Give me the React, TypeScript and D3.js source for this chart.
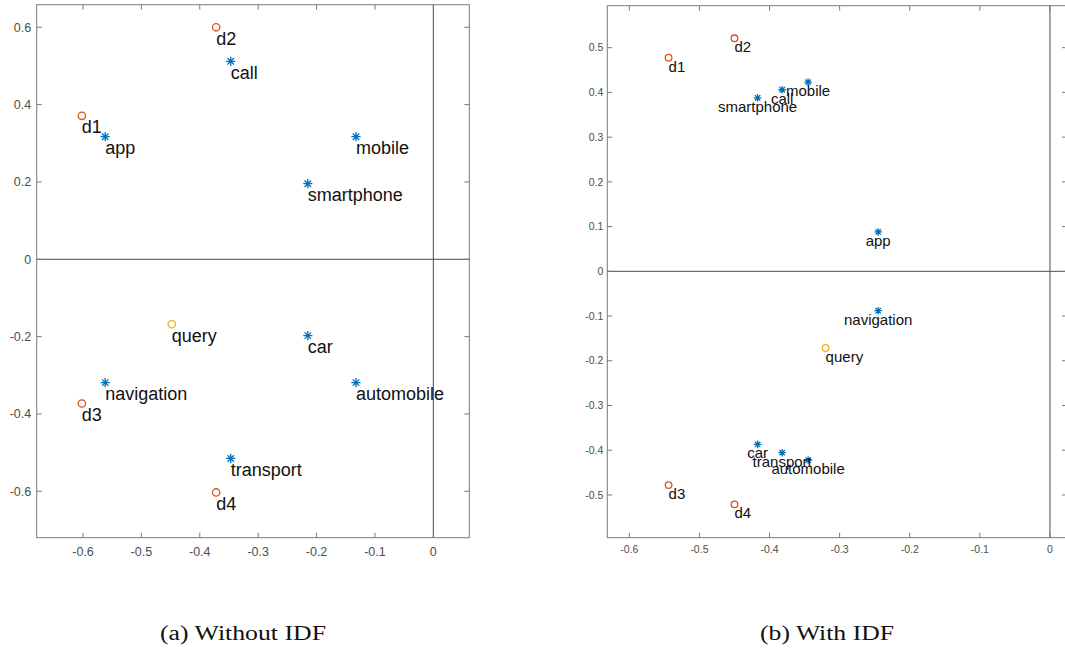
import React from "react";
import * as d3 from "d3";

// Term and document labels
const terms = ["call", "app", "mobile", "smartphone", "car", "navigation", "automobile", "transport"];
const docs = ["d1", "d2", "d3", "d4"];
const queryLabel = "query";

// (a) Without IDF — 2-D LSI coordinates
const termXa = [-0.347, -0.562, -0.1325, -0.215, -0.215, -0.562, -0.1325, -0.347];
const termYa = [0.512, 0.317, 0.317, 0.1955, -0.1975, -0.319, -0.319, -0.515];
const docXa = [-0.602, -0.372, -0.602, -0.372];
const docYa = [0.371, 0.6, -0.373, -0.603];
const queryA = [-0.448, -0.168];

// (b) With IDF
const termXb = [-0.382, -0.245, -0.345, -0.417, -0.417, -0.245, -0.345, -0.382];
const termYb = [0.406, 0.088, 0.423, 0.388, -0.387, -0.088, -0.422, -0.4055];
const docXb = [-0.544, -0.45, -0.544, -0.45];
const docYb = [0.4775, 0.521, -0.478, -0.521];
const queryB = [-0.32, -0.1715];

// Axis ticks
const xTicks = [-0.6, -0.5, -0.4, -0.3, -0.2, -0.1, 0];
const yTicksA = [-0.6, -0.4, -0.2, 0, 0.2, 0.4, 0.6];
const yTicksB = [-0.5, -0.4, -0.3, -0.2, -0.1, 0, 0.1, 0.2, 0.3, 0.4, 0.5];

const BLUE = "#0072BD";
const ORANGE = "#D95319";
const YELLOW = "#EDB120";
const FRAME = "#7a7a7a";
const ZERO = "#4a4a4a";
const TICKTXT = "#4d4d4d";

type PanelProps = {
  left: number; right: number; top: number; bottom: number;
  xDomain: [number, number]; yDomain: [number, number];
  yTicks: number[];
  tx: number[]; ty: number[]; dx: number[]; dy: number[]; q: number[];
  labelSize: number; tickSize: number; labelDy: number;
  markerR: number; starR: number; centerTerms: boolean;
  yLabelGap: number; xLabelDy: number;
};

function fmt(v: number) {
  if (Math.abs(v) < 1e-9) return "0";
  return String(+v.toFixed(1));
}

function Star({ x, y, r }: { x: number; y: number; r: number }) {
  const d = r * Math.SQRT1_2;
  const p = `M${x - r},${y}L${x + r},${y}M${x},${y - r}L${x},${y + r}` +
    `M${x - d},${y - d}L${x + d},${y + d}M${x - d},${y + d}L${x + d},${y - d}`;
  return <path d={p} stroke={BLUE} strokeWidth={1.3} fill="none" />;
}

function Panel(p: PanelProps) {
  const x = d3.scaleLinear().domain(p.xDomain).range([p.left, p.right]);
  const y = d3.scaleLinear().domain(p.yDomain).range([p.bottom, p.top]);
  const tl = 5;
  const font = "'Liberation Sans', Arial, Helvetica, sans-serif";
  return (
    <g>
      {/* frame */}
      <rect x={p.left} y={p.top} width={p.right - p.left} height={p.bottom - p.top}
        fill="none" stroke={FRAME} strokeWidth={1} />
      {/* zero lines */}
      <line x1={p.left} x2={p.right} y1={y(0)} y2={y(0)} stroke={ZERO} strokeWidth={1} />
      <line x1={x(0)} x2={x(0)} y1={p.top} y2={p.bottom} stroke={ZERO} strokeWidth={1} />
      {/* x ticks */}
      {xTicks.map((t) => (
        <g key={"x" + t}>
          <line x1={x(t)} x2={x(t)} y1={p.bottom} y2={p.bottom - tl} stroke={FRAME} />
          <line x1={x(t)} x2={x(t)} y1={p.top} y2={p.top + tl} stroke={FRAME} />
          <text x={x(t)} y={p.bottom + p.xLabelDy} textAnchor="middle" fontFamily={font}
            fontSize={p.tickSize} fill={TICKTXT}>{fmt(t)}</text>
        </g>
      ))}
      {/* y ticks */}
      {p.yTicks.map((t) => (
        <g key={"y" + t}>
          <line x1={p.left} x2={p.left + tl} y1={y(t)} y2={y(t)} stroke={FRAME} />
          <line x1={p.right} x2={p.right - tl} y1={y(t)} y2={y(t)} stroke={FRAME} />
          <text x={p.left - p.yLabelGap} y={y(t)} dy="0.35em" textAnchor="end" fontFamily={font}
            fontSize={p.tickSize} fill={TICKTXT}>{fmt(t)}</text>
        </g>
      ))}
      {/* terms */}
      {terms.map((name, i) => (
        <g key={name}>
          <Star x={x(p.tx[i])} y={y(p.ty[i])} r={p.starR} />
          <text x={x(p.tx[i])} y={y(p.ty[i]) + p.labelDy}
            textAnchor={p.centerTerms ? "middle" : "start"}
            fontFamily={font} fontSize={p.labelSize} fill="#111">{name}</text>
        </g>
      ))}
      {/* documents */}
      {docs.map((name, i) => (
        <g key={name}>
          <circle cx={x(p.dx[i])} cy={y(p.dy[i])} r={p.markerR} fill="none" stroke={ORANGE} strokeWidth={1.3} />
          <text x={x(p.dx[i])} y={y(p.dy[i]) + p.labelDy} fontFamily={font}
            fontSize={p.labelSize} fill="#111">{name}</text>
        </g>
      ))}
      {/* query */}
      <circle cx={x(p.q[0])} cy={y(p.q[1])} r={p.markerR} fill="none" stroke={YELLOW} strokeWidth={1.3} />
      <text x={x(p.q[0])} y={y(p.q[1]) + p.labelDy} fontFamily={font}
        fontSize={p.labelSize} fill="#111">{queryLabel}</text>
    </g>
  );
}

export default function App() {
  const serif = "'Liberation Serif', 'Times New Roman', serif";
  return (
    <div style={{ position: "absolute", left: 0, top: 0 }}>
      <svg width={1065} height={649} style={{ display: "block", background: "#fff" }}>
        <Panel left={36.7} right={469.3} top={4.7} bottom={537.7}
          xDomain={[-0.6793, 0.0616]} yDomain={[-0.72, 0.6584]} yTicks={yTicksA}
          tx={termXa} ty={termYa} dx={docXa} dy={docYa} q={queryA}
          labelSize={18} tickSize={12.5} labelDy={17.5} markerR={3.7} starR={4.6}
          centerTerms={false} yLabelGap={5.5} xLabelDy={18} />
        <Panel left={607.3} right={1067} top={5.7} bottom={537.7}
          xDomain={[-0.6314, 0.0243]} yDomain={[-0.5956, 0.5939]} yTicks={yTicksB}
          tx={termXb} ty={termYb} dx={docXb} dy={docYb} q={queryB}
          labelSize={15} tickSize={10.5} labelDy={14} markerR={3.3} starR={3.8}
          centerTerms={true} yLabelGap={4} xLabelDy={15} />
        <text x={160} y={640} fontFamily={serif} fontSize={20} fill="#111"
          textLength={166} lengthAdjust="spacingAndGlyphs">(a) Without IDF</text>
        <text x={760} y={640} fontFamily={serif} fontSize={20} fill="#111"
          textLength={134} lengthAdjust="spacingAndGlyphs">(b) With IDF</text>
      </svg>
    </div>
  );
}
